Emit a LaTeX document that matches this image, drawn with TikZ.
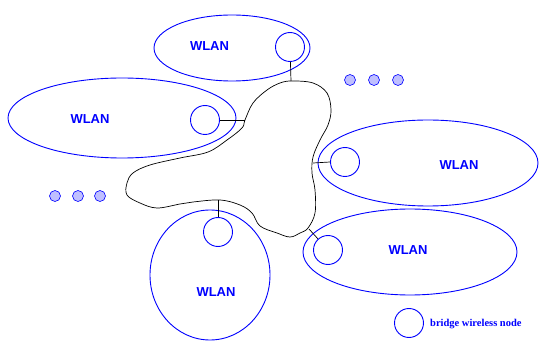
\documentclass[tikz,border=0pt]{standalone}
\usepackage{fontspec}
\setmainfont{Liberation Serif}
\setsansfont{Liberation Sans}
\begin{document}
\begin{tikzpicture}[x=1pt,y=-1pt,
  wlan/.style={draw=blue,line width=0.9pt},
  bridge/.style={circle,draw=blue,line width=0.9pt,minimum size=29pt,inner sep=0pt},
  dot/.style={circle,draw=blue,fill=blue!25,line width=0.6pt,minimum size=11pt,inner sep=0pt},
  lbl/.style={text=blue,font=\sffamily\bfseries\fontsize{13}{15}\selectfont},
  link/.style={draw=black,line width=0.7pt}]
\useasboundingbox (0,0) rectangle (539,342);
% WLAN ellipses
\draw[wlan] (232,48) ellipse [x radius=78, y radius=33];
\draw[wlan] (122,118) ellipse [x radius=114, y radius=40];
\draw[wlan] (428,163) ellipse [x radius=110, y radius=43];
\draw[wlan] (410,252) ellipse [x radius=107, y radius=43];
\draw[wlan] (210,275) ellipse [x radius=60, y radius=65];
% labels
\node[lbl] (l1) at (209.5,46) {WLAN};
\node[lbl] (l2) at (90,119) {WLAN};
\node[lbl] (l3) at (459,165) {WLAN};
\node[lbl] (l4) at (408,250) {WLAN};
\node[lbl] (l5) at (216,292) {WLAN};
% backbone blob
\draw[black,line width=0.7pt] plot[smooth cycle,tension=0.6] coordinates {
 (292,81) (313,83) (327,93) (331,110) (328,125) (320,140) (313,157) (312,173)
 (315,190) (315,213) (308,228) (300,233) (290,237) (277,233) (260,226) (252,213)
 (240,205) (220,200) (193,202) (180,204) (157,208) (140,203) (127,195) (127,183)
 (133,173) (150,165) (180,158) (208,152) (227,140) (242,128) (245,120) (253,103)
 (267,90) (280,83)};
% bridge nodes
\node[bridge] (b1) at (290,47) {};
\node[bridge] (b2) at (205,120) {};
\node[bridge] (b3) at (345,162) {};
\node[bridge] (b4) at (328,250) {};
\node[bridge] (b5) at (218,232) {};
% attachment points on blob
\coordinate (a1) at (291,81);
\coordinate (a2) at (245,120);
\coordinate (a3) at (313,163);
\coordinate (a4) at (309,229);
\coordinate (a5) at (218,200);
\draw[link] (b1) -- (a1);
\draw[link] (b2.east) -- (a2);
\draw[link] (b3.west) -- (a3);
\draw[link] (b4) -- (a4);
\draw[link] (b5.north) -- (a5);
% dots
\node[dot] (d1) at (350,80) {};
\node[dot] (d2) at (374,80) {};
\node[dot] (d3) at (398,80) {};
\node[dot] (d4) at (55,196) {};
\node[dot] (d5) at (78,196) {};
\node[dot] (d6) at (100,196) {};
% legend
\node[bridge] (leg) at (409,323) {};
\node[anchor=west,text=blue,font=\bfseries\fontsize{10.5}{12}\selectfont,inner sep=0pt] (legt) at (430,324) {bridge wireless node};
\end{tikzpicture}
\end{document}
